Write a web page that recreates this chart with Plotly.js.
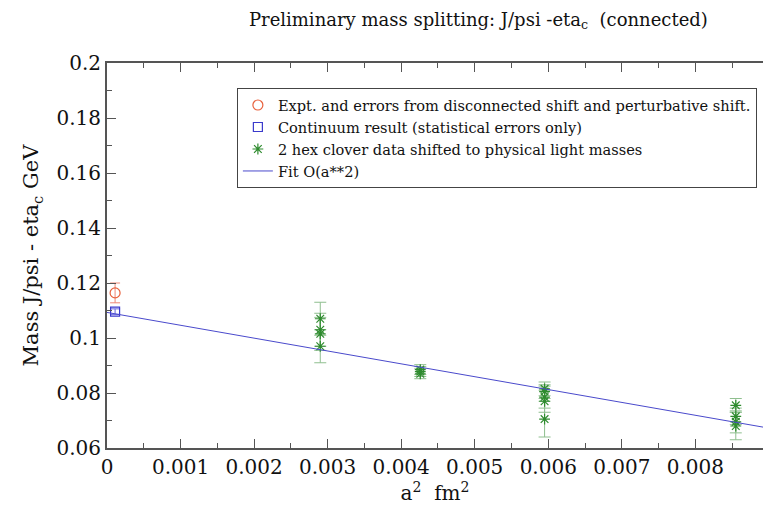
<!DOCTYPE html>
<html><head><meta charset="utf-8">
<script src="https://cdn.plot.ly/plotly-3.0.1.min.js"></script>
<style>html,body{margin:0;padding:0;background:#fff}</style>
</head><body>
<div id="chart" style="width:763px;height:510px"></div>
<script>
// Experimental value (red circle)
const exptX = [0.00011];
const exptY = [0.1164];
const exptErr = [0.0036];
// Continuum result (blue square)
const contX = [0.00011];
const contY = [0.1096];
const contErr = [0.0010];
// 2 hex clover data shifted to physical light masses
const hexX = [0.0029, 0.0029, 0.0029, 0.0029,
              0.00426, 0.00426, 0.00426,
              0.00595, 0.00595, 0.00595, 0.00595, 0.00595,
              0.00855, 0.00855, 0.00855, 0.00855];
const hexY = [0.1070, 0.1030, 0.1015, 0.0970,
              0.0885, 0.0878, 0.0870,
              0.0815, 0.0805, 0.0785, 0.0770, 0.0705,
              0.0755, 0.0715, 0.0695, 0.0680];
const hexErr = [0.0060, 0.0060, 0.0060, 0.0060,
                0.0018, 0.0018, 0.0018,
                0.0025, 0.0025, 0.0040, 0.0040, 0.0065,
                0.0025, 0.0030, 0.0040, 0.0050];
// Fit O(a**2)
const fitX = [0.0, 0.00892];
const fitY = [0.1093, 0.0676];

const serif = 'DejaVu Serif';

const traces = [
  {x: exptX, y: exptY, type: 'scatter', mode: 'markers',
   name: 'Expt. and errors from disconnected shift and perturbative shift.',
   marker: {symbol: 'circle-open', size: 10, color: '#e8603c', line: {width: 1.2}},
   error_y: {type: 'data', array: exptErr, visible: true, color: '#ee8877', thickness: 1, width: 5}},
  {x: contX, y: contY, type: 'scatter', mode: 'markers',
   name: 'Continuum result (statistical errors only)',
   marker: {symbol: 'square-open', size: 9, color: '#3a3acc', line: {width: 1.2}},
   error_y: {type: 'data', array: contErr, visible: true, color: '#6666dd', thickness: 1, width: 5}},
  {x: hexX, y: hexY, type: 'scatter', mode: 'markers',
   name: '2 hex clover data shifted to physical light masses',
   marker: {symbol: 'asterisk-open', size: 9, color: '#2e8b2e', line: {width: 1.2, color: '#2e8b2e'}},
   error_y: {type: 'data', array: hexErr, visible: true, color: '#8fbf8f', thickness: 1, width: 6}},
  {x: fitX, y: fitY, type: 'scatter', mode: 'lines',
   name: 'Fit O(a**2)',
   line: {color: '#4a4acc', width: 1}}
];

const layout = {
  width: 763, height: 510,
  margin: {l: 107, r: 0, t: 63, b: 62},
  paper_bgcolor: '#fff', plot_bgcolor: '#fff',
  font: {family: serif, color: '#111'},
  showlegend: true,
  title: {text: 'Preliminary mass splitting: J/psi -eta<sub>c</sub>  (connected)',
          font: {family: serif, size: 18, color: '#111'},
          x: 0.627, xanchor: 'center', y: 0.962, yanchor: 'middle'},
  xaxis: {range: [0, 0.00892], dtick: 0.001, tick0: 0, showgrid: false, zeroline: false,
          ticks: 'inside', ticklen: 9, tickcolor: '#555', showline: true, linecolor: '#555', linewidth: 2,
          mirror: 'allticks', tickfont: {family: serif, size: 20, color: '#111'},
          minor: {dtick: 0.0005, ticks: 'inside', ticklen: 5, tickcolor: '#555'},
          title: {text: 'a<sup>2</sup>  fm<sup>2</sup>', font: {family: serif, size: 20, color: '#111'}, standoff: 2}},
  yaxis: {range: [0.06, 0.2], dtick: 0.02, tick0: 0.06, showgrid: false, zeroline: false,
          ticks: 'inside', ticklen: 9, tickcolor: '#555', showline: true, linecolor: '#555', linewidth: 2,
          tickfont: {family: serif, size: 20, color: '#111'},
          minor: {dtick: 0.01, ticks: 'inside', ticklen: 5, tickcolor: '#555'},
          title: {text: 'Mass J/psi - eta<sub>c</sub> GeV', font: {family: serif, size: 21, color: '#111'}, standoff: 12}},
  legend: {x: 0.198, y: 0.935, xanchor: 'left', yanchor: 'top',
           bgcolor: '#fff', bordercolor: '#444', borderwidth: 1,
           font: {family: serif, size: 14.6, color: '#111'},
           tracegroupgap: 0, itemwidth: 30}
};

Plotly.newPlot('chart', traces, layout, {displayModeBar: false, staticPlot: true});
</script>
</body></html>
